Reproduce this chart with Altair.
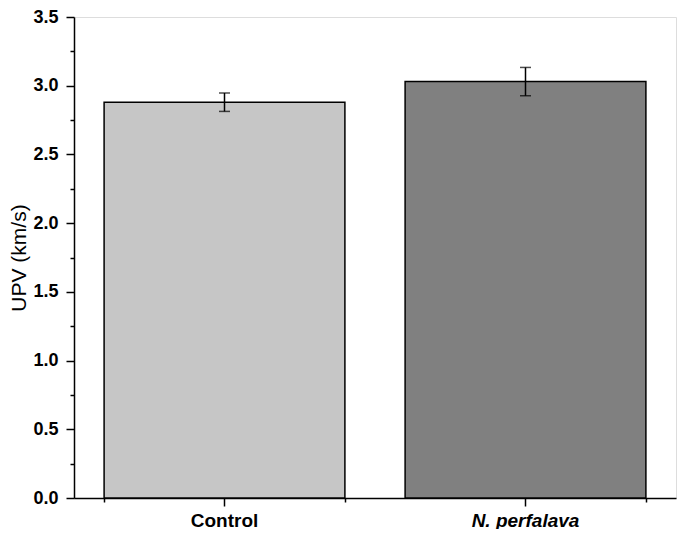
import altair as alt
import pandas as pd

categories = ["Control", "N. perfalava"]
means = [2.88, 3.03]
errors = [0.067, 0.103]
colors = ["#c6c6c6", "#808080"]

y_major = [0, 0.5, 1.0, 1.5, 2.0, 2.5, 3.0, 3.5]
y_minor = [0.25, 0.75, 1.25, 1.75, 2.25, 2.75, 3.25]

df = pd.DataFrame({"cat": categories, "mean": means, "err": errors, "color": colors})
df["lo"] = df["mean"] - df["err"]
df["hi"] = df["mean"] + df["err"]

FONT = "Liberation Sans"

xscale = alt.Scale(domain=categories, paddingInner=0.2, paddingOuter=0.1)
yscale = alt.Scale(domain=[0, 3.5], nice=False, zero=True)

x_main_axis = alt.Axis(
    title=None, labelFont=FONT, labelFontSize=19, labelFontWeight="bold",
    labelColor="black", labelPadding=5, tickSize=8, tickWidth=1.5, tickColor="black",
    domainColor="black", domainWidth=1.5, labelAngle=0,
    labelFontStyle=alt.expr("datum.value == 'N. perfalava' ? 'italic' : 'normal'"),
    orient="bottom", grid=False,
)
y_main_axis = alt.Axis(
    title="UPV (km/s)", titleFont=FONT, titleFontSize=21, titleFontWeight="normal",
    titleColor="black", titlePadding=3,
    labelFont=FONT, labelFontSize=18, labelFontWeight="bold", labelColor="black",
    labelPadding=8, values=y_major, format=".1f", tickSize=8, tickWidth=1.5,
    tickColor="black", domainColor="black", domainWidth=1.5, grid=False, orient="left",
)

bars = alt.Chart(df).mark_bar(stroke="black", strokeWidth=1.5).encode(
    x=alt.X("cat:N", scale=xscale, axis=x_main_axis, sort=categories),
    y=alt.Y("mean:Q", scale=yscale, axis=y_main_axis),
    fill=alt.Fill("color:N", scale=None),
)

rules = alt.Chart(df).mark_rule(color="black", strokeWidth=1.5).encode(
    x=alt.X("cat:N", sort=categories, axis=None),
    y=alt.Y("lo:Q", axis=None),
    y2="hi:Q",
)
caps_hi = alt.Chart(df).mark_tick(color="black", thickness=1.5, size=11, orient="horizontal").encode(
    x=alt.X("cat:N", sort=categories, axis=None),
    y=alt.Y("hi:Q", axis=None),
)
caps_lo = alt.Chart(df).mark_tick(color="black", thickness=1.5, size=11, orient="horizontal").encode(
    x=alt.X("cat:N", sort=categories, axis=None),
    y=alt.Y("lo:Q", axis=None),
)

minor = alt.Chart(df).mark_point(opacity=0).encode(
    x=alt.X("cat:N", sort=categories, axis=alt.Axis(
        title=None, labels=False, domain=False, tickBand="extent", tickSize=4,
        tickWidth=1.5, tickColor="black", orient="bottom", grid=False)),
    y=alt.Y("mean:Q", axis=alt.Axis(
        title=None, labels=False, domain=False, values=y_minor, tickSize=4,
        tickWidth=1.5, tickColor="black", orient="left", grid=False)),
)

chart = alt.layer(bars, rules, caps_hi, caps_lo, minor).resolve_axis(
    x="independent", y="independent"
).properties(
    width=602, height=481,
    autosize=alt.AutoSizeParams(type="none"),
    padding={"left": 66, "top": 9, "right": 1, "bottom": 31},
).configure_view(stroke=None).configure(background="white")

chart.save("out.html", embed_options={"renderer": "svg", "actions": False})
